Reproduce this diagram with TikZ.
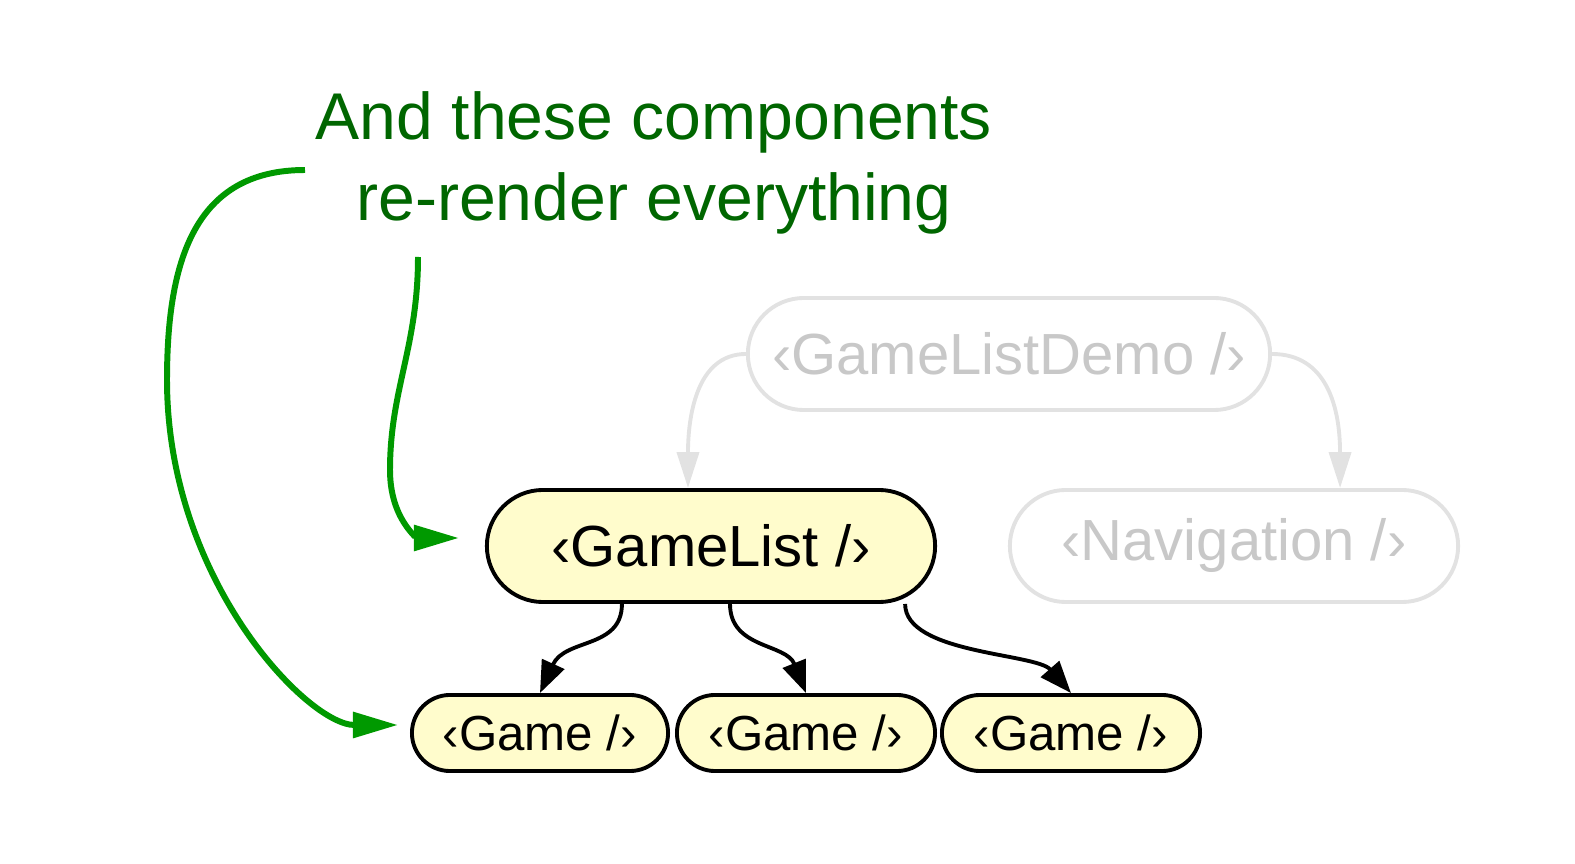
\documentclass[tikz,border=0pt]{standalone}
\usepackage{fontspec}
\setmainfont{Liberation Sans}
\usetikzlibrary{arrows.meta, positioning}
\definecolor{cyellow}{HTML}{FFFCCC}
\definecolor{cfaint}{HTML}{E2E2E2}
\definecolor{cfainttext}{HTML}{C8C8C8}
\definecolor{cgreen}{HTML}{009900}
\definecolor{cdarkgreen}{HTML}{006600}
\tikzset{
  every picture/.style={line width=1.1pt},
  comp/.style={draw=black, fill=cyellow, rounded corners=#1, inner sep=0pt, align=center},
  comp/.default=0.56cm,
  faint/.style={comp, draw=cfaint, fill=white, text=cfainttext},
  edge/.style={-{Triangle[length=0.32cm, width=0.24cm]}, draw=black},
  faintedge/.style={-{Triangle[length=0.36cm, width=0.22cm]}, draw=cfaint},
  pointer/.style={-{Triangle[length=0.45cm, width=0.25cm]}, draw=cgreen, line width=1.7pt},
  note/.style={text=cdarkgreen, align=center, font=\fontsize{18.8}{22.8}\selectfont},
}

\begin{document}
\begin{tikzpicture}[x=0.01cm, y=-0.01cm]
  \useasboundingbox (0,0) rectangle (1575,864);
  % component tree
  \node[faint, minimum width=5.22cm, minimum height=1.12cm, font=\fontsize{16.5}{18}\selectfont] (demo) at (1009,354) {‹GameListDemo /›};
  \node[comp, minimum width=4.48cm, minimum height=1.12cm, font=\fontsize{16.5}{18}\selectfont] (list) at (711,546) {‹GameList /›};
  \node[faint, minimum width=4.48cm, minimum height=1.12cm, font=\fontsize{16.5}{18}\selectfont] (nav) at (1234,546) {‹Navigation /›};
  \node[comp=0.38cm, minimum width=2.56cm, minimum height=0.76cm, font=\fontsize{14}{16}\selectfont] (game1) at (540,733) {‹Game /›};
  \node[comp=0.38cm, minimum width=2.58cm, minimum height=0.76cm, font=\fontsize{14}{16}\selectfont] (game2) at (806,733) {‹Game /›};
  \node[comp=0.38cm, minimum width=2.58cm, minimum height=0.76cm, font=\fontsize{14}{16}\selectfont] (game3) at (1071,733) {‹Game /›};
  \draw[faintedge] (demo.west) .. controls +(-50,0) and +(0,-70) .. ([xshift=-0.23cm]list.north);
  \draw[faintedge] (demo.east) .. controls +(55,0) and +(0,-80) .. ([xshift=1.06cm]nav.north);
  \draw[edge] ([xshift=-0.89cm]list.south) .. controls +(0,45) and +(25,-55) .. (game1.north);
  \draw[edge] ([xshift=0.19cm]list.south) .. controls +(0,45) and +(-20,-50) .. (game2.north);
  \draw[edge] ([xshift=1.94cm]list.south) .. controls +(0,50) and +(-35,-40) .. (game3.north);
  % annotation
  \node[note] (msg) at (654,163) {And these components\\re-render everything};
  \coordinate (from1) at (305,170);
  \coordinate (from2) at (418,257);
  \coordinate (to1) at ([xshift=-0.12cm, yshift=0.08cm]game1.west);
  \coordinate (to2) at ([xshift=-0.26cm, yshift=0.08cm]list.west);
  \draw[pointer] (from1) .. controls +(-110,0) and +(0,-120) .. (167,380) .. controls +(0,200) and +(-90,0) .. (to1);
  \draw[pointer] (from2) .. controls +(0,90) and +(0,-80) .. (390,470) .. controls +(0,50) and +(-40,0) .. (to2);
\end{tikzpicture}
\end{document}
